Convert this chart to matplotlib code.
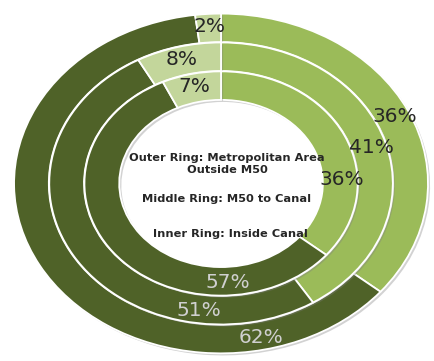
import numpy as np
import matplotlib.pyplot as plt
import matplotlib.patheffects as pe

# share of each area, clockwise from 12 o'clock
outer_vals = [36, 62, 2]
middle_vals = [41, 51, 8]
inner_vals = [36, 57, 7]

colors = ['#9bbb59', '#4f6228', '#c3d69b']
label_colors = ['#262626', '#d0d0d0', '#262626']

# where each ring's labels sit (angle in degrees); None -> middle of wedge
label_angles = {
    'outer': [None, -78, None],
    'middle': [None, -98, None],
    'inner': [2, -87, None],
}

fig = plt.figure(figsize=(4.34, 3.61), dpi=100)
ax = fig.add_axes([0, 0, 1, 1])

rings = [('outer', outer_vals, 1.0), ('middle', middle_vals, 0.83), ('inner', inner_vals, 0.66)]
width = 0.168
shadow = [pe.SimplePatchShadow(offset=(1.5, -1.5), shadow_rgbFace='#7f7f7f', alpha=0.35), pe.Normal()]

for name, vals, r in rings:
    wedges, _ = ax.pie(vals, radius=r, colors=colors, startangle=90, counterclock=False,
                       wedgeprops=dict(width=width, edgecolor='white', linewidth=1.3))
    for w in wedges:
        w.set_path_effects(shadow)
    total = sum(vals)
    start = 90.0
    mid_r = r - width / 2 + 0.01
    for i, v in enumerate(vals):
        span = 360.0 * v / total
        ang = start - span / 2 if label_angles[name][i] is None else label_angles[name][i]
        start -= span
        a = np.deg2rad(ang)
        ax.text(mid_r * np.cos(a), mid_r * np.sin(a), f'{v}%', ha='center', va='center',
                fontsize=14.5, color=label_colors[i])

ax.set_aspect('auto')
ax.set_xlim(-1.068, 1.029)
ax.set_ylim(-1.045, 1.08)

ax.text(0.03, 0.115, 'Outer Ring: Metropolitan Area\nOutside M50', ha='center', va='center',
        fontsize=8.2, fontweight='bold', color='#262626', linespacing=1.2)
ax.text(0.025, -0.094, 'Middle Ring: M50 to Canal', ha='center', va='center',
        fontsize=8.2, fontweight='bold', color='#262626')
ax.text(0.045, -0.30, 'Inner Ring: Inside Canal', ha='center', va='center',
        fontsize=8.2, fontweight='bold', color='#262626')

fig.savefig('out.png', dpi=100)
